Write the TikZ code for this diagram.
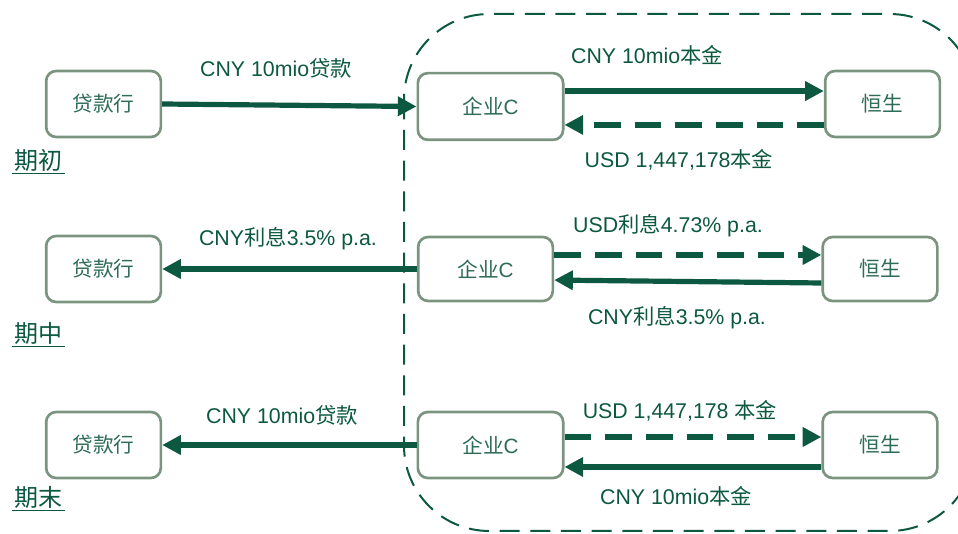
\documentclass[tikz,border=0pt]{standalone}
\usepackage{xcolor}
\usepackage{fontspec}
\setmainfont{Liberation Sans}
\newfontfamily\zhfont{Noto Sans CJK SC}
\newcommand{\zh}[1]{{\zhfont #1}}
\usepackage{tikz}
\usetikzlibrary{arrows.meta}
\definecolor{hsgreen}{RGB}{12,88,64}
\definecolor{boxline}{RGB}{122,148,128}
\definecolor{boxtext}{RGB}{45,108,86}

\begin{document}
\begin{tikzpicture}[x=0.75pt,y=-0.75pt,
    party/.style={draw=boxline,line width=2pt,rounded corners=7.5pt,fill=white,text=boxtext,
                  font=\fontsize{15.5pt}{18pt}\selectfont,minimum width=86pt,minimum height=49.5pt,inner sep=0pt},
    flow/.style={draw=hsgreen,line width=3.9pt,-{Triangle[length=14pt,width=14pt]}},
    dflow/.style={flow,dash pattern=on 20pt off 10.5pt},
    amount/.style={text=hsgreen,font=\fontsize{16pt}{19pt}\selectfont,inner sep=0pt},
    stage/.style={text=hsgreen,font=\fontsize{18pt}{21pt}\selectfont,inner sep=1.5pt,anchor=west}]
        \useasboundingbox (0,0) rectangle (958,534);
        \clip (0,0) rectangle (958,534);

        % Dashed frame round the swap side
        \draw[hsgreen,line width=1.5pt,dash pattern=on 15pt off 8pt,rounded corners=64pt]
             (404,14) rectangle (975,531);

        % Parties, one row per stage
        \node[party] (bank1) at (103.5,104) {\zh{贷款行}};
        \node[party] (bank2) at (103.5,269) {\zh{贷款行}};
        \node[party] (bank3) at (103.5,445) {\zh{贷款行}};
        \node[party,minimum width=109pt,minimum height=50pt] (firm1) at (490.5,106.5) {\zh{企业}C};
        \node[party,minimum width=101pt,minimum height=48pt] (firm2) at (485.5,269) {\zh{企业}C};
        \node[party,minimum width=109pt] (firm3) at (490.5,445) {\zh{企业}C};
        \node[party] (hs1) at (882.5,104) {\zh{恒生}};
        \node[party,minimum height=48pt] (hs2) at (880,269) {\zh{恒生}};
        \node[party] (hs3) at (880,445) {\zh{恒生}};

        % Stage names
        \node[stage] (start) at (12,160) {\zh{期初}};
        \node[stage] (mid) at (12,333) {\zh{期中}};
        \node[stage] (end) at (12,497) {\zh{期末}};
        \foreach \s in {start,mid,end}
            \draw[hsgreen,line width=1.2pt] (\s.south west) -- (\s.south east);

        % Start: loan in, principals swapped
        \draw[flow] (bank1.east) -- (firm1.west);
        \draw[flow] ([yshift=11.6pt]firm1.east) -- ([yshift=11.6pt]firm1.east -| hs1.west);
        \draw[dflow] ([yshift=-15.7pt]hs1.west) -- ([yshift=-15.7pt]hs1.west -| firm1.east);
        \node[amount] (a1) at (276,68) {CNY 10mio\zh{贷款}};
        \node[amount] (a2) at (647,55) {CNY 10mio\zh{本金}};
        \node[amount] (a3) at (679,160) {USD 1,447,178\zh{本金}};

        % Middle: interest
        \draw[flow] (firm2.west) -- (bank2.east);
        \draw[dflow] ([yshift=10.5pt]firm2.east) -- ([yshift=10.5pt]firm2.east -| hs2.west);
        \draw[flow] ([yshift=-10.5pt]hs2.west) -- ([yshift=-8.3pt]firm2.east);
        \node[amount] (b1) at (288,239) {CNY\zh{利息}3.5\% p.a.};
        \node[amount] (b2) at (668,226) {USD\zh{利息}4.73\% p.a.};
        \node[amount] (b3) at (677,318) {CNY\zh{利息}3.5\% p.a.};

        % End: principals back, loan repaid
        \draw[flow] (firm3.west) -- (bank3.east);
        \draw[dflow] ([yshift=6pt]firm3.east) -- ([yshift=6pt]firm3.east -| hs3.west);
        \draw[flow] ([yshift=-16.5pt]hs3.west) -- ([yshift=-16.5pt]hs3.west -| firm3.east);
        \node[amount] (c1) at (282,415) {CNY 10mio\zh{贷款}};
        \node[amount] (c2) at (680,411) {USD 1,447,178 \zh{本金}};
        \node[amount] (c3) at (676,496) {CNY 10mio\zh{本金}};
    \end{tikzpicture}
\end{document}
